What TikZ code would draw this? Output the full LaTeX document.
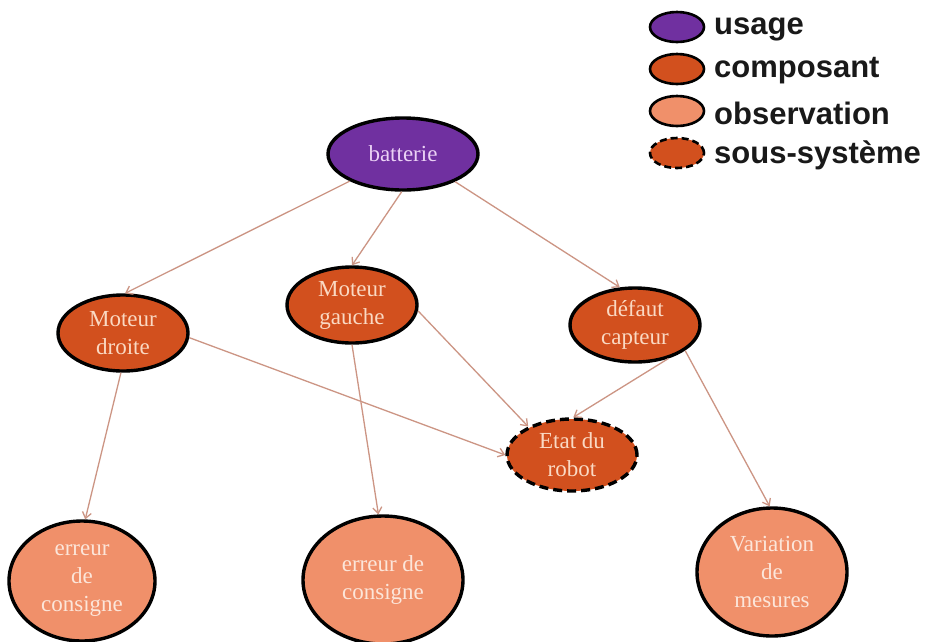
\documentclass[tikz,border=0pt]{standalone}
\usepackage{fontspec}
\setmainfont{Liberation Serif}
\newfontfamily\legendfont{Liberation Sans}
\usetikzlibrary{shapes.geometric,arrows.meta}
\definecolor{usagefill}{HTML}{7030A0}
\definecolor{compfill}{HTML}{D2501E}
\definecolor{obsfill}{HTML}{F0906A}
\definecolor{edgecol}{HTML}{CC9584}
\definecolor{usagetext}{HTML}{EBD2F5}
\definecolor{comptext}{HTML}{FAD9C3}
\definecolor{obstext}{HTML}{FCE6DA}
\tikzset{
  base/.style={ellipse, inner sep=0pt, align=center, line width=3.4pt, draw=black,
    font=\fontsize{23}{28}\selectfont},
  usagenode/.style={base, fill=usagefill, text=usagetext},
  compnode/.style={base, fill=compfill, text=comptext},
  obsnode/.style={base, fill=obsfill, text=obstext},
  subnode/.style={base, fill=compfill, text=comptext, dash pattern=on 9pt off 5pt},
  edge/.style={draw=edgecol, line width=1.3pt, -{Straight Barb[length=6pt,width=9pt]}},
  legell/.style={ellipse, inner sep=0pt, line width=2.6pt, draw=black,
    minimum width=54pt, minimum height=30pt},
  legtext/.style={anchor=west, inner sep=0pt, text=black!90,
    font=\legendfont\bfseries\fontsize{31}{33}\selectfont}
}
\begin{document}
\begin{tikzpicture}[x=1pt,y=-1pt]
\useasboundingbox[fill=white] (0,0) rectangle (927,641);

% main nodes
\node[usagenode, minimum width=150pt, minimum height=72pt] (bat) at (403,154) {batterie};
\node[compnode, minimum width=130pt, minimum height=76pt] (md) at (123,333) {Moteur\\droite};
\node[compnode, minimum width=130pt, minimum height=76pt] (mg) at (352,305) {Moteur\\gauche};
\node[compnode, minimum width=130pt, minimum height=74pt] (dc) at (635,325) {défaut\\capteur};
\node[subnode, minimum width=130pt, minimum height=72pt] (er) at (572,455) {Etat du\\robot};
\node[obsnode, minimum width=146pt, minimum height=120pt] (e1) at (82,581) {erreur\\de\\consigne};
\node[obsnode, minimum width=160pt, minimum height=128pt] (e2) at (383,580) {erreur de\\consigne};
\node[obsnode, minimum width=150pt, minimum height=128pt] (vm) at (772,572) {Variation\\de\\mesures};

% connectors
\draw[edge] (bat.207) -- (md.87);
\draw[edge] (bat.268) -- (mg.90);
\draw[edge] (bat.332) -- (dc.112);
\draw[edge] (md.267) -- (e1.87);
\draw[edge] (md.356) -- (er.180);
\draw[edge] (mg.270) -- (e2.94);
\draw[edge] (mg.355) -- (er.147);
\draw[edge] (dc.315) -- (er.88);
\draw[edge] (dc.333) -- (vm.92);

% legend
\node[legell, fill=usagefill] (l1) at (677,27) {};
\node[legell, fill=compfill] (l2) at (677,69) {};
\node[legell, fill=obsfill] (l3) at (677,111) {};
\node[legell, fill=compfill, dash pattern=on 7pt off 4pt] (l4) at (677,153) {};
\node[legtext] (t1) at (714,29) {usage};
\node[legtext] (t2) at (714,71) {composant};
\node[legtext] (t3) at (714,113) {observation};
\node[legtext] (t4) at (714,155) {sous-système};
\end{tikzpicture}
\end{document}
